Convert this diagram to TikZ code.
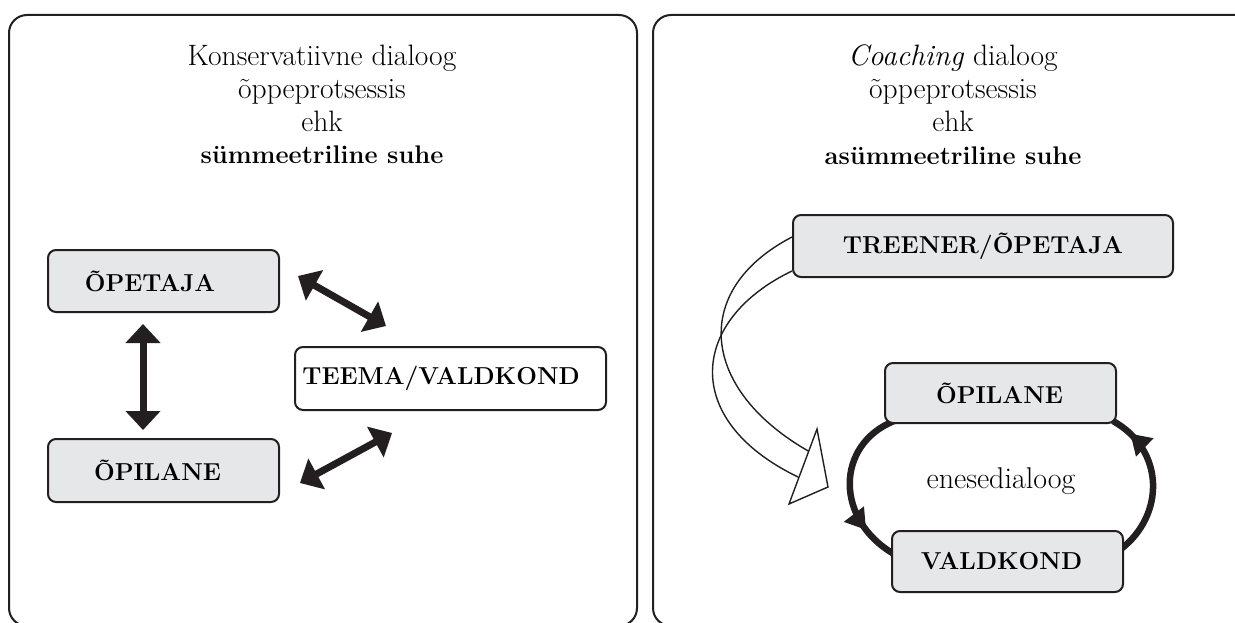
\documentclass[tikz,border=0pt]{standalone}
\usepackage{fontspec}
\usetikzlibrary{arrows.meta,decorations.markings,backgrounds}
\definecolor{ink}{HTML}{231F20}
\definecolor{boxgray}{HTML}{E6E7E8}
\begin{document}
\begin{tikzpicture}[x=1pt,y=-1pt,
  panel/.style={draw=ink,line width=2pt,rounded corners=18pt},
  boxnode/.style={draw=ink,line width=2pt,fill=boxgray,rounded corners=8pt,inner sep=0pt,
    font=\fontsize{24.5}{27}\selectfont\bfseries},
  titletext/.style={align=center,inner sep=0pt,font=\fontsize{29.5}{32.7}\selectfont},
  dblarrow/.style={ink,line width=7pt,{Triangle[length=19pt,width=34pt]}-{Triangle[length=19pt,width=34pt]}},
  hollow/.style={draw=ink,line width=1.4pt},
  loopline/.style={ink,line width=6.5pt,postaction={decorate},
    decoration={markings,mark=at position #1 with {\arrow[ink]{Triangle[length=20pt,width=24pt]}}}}
]
\useasboundingbox (0,0) rectangle (1235,623);

% panels
\draw[panel] (9,15) rectangle (637,626);
\draw[panel] (653,15) rectangle (1260,626);

% left title
\node[titletext,anchor=north] (ltitle) at (322,45)
  {Konservatiivne dialoog\\ õppeprotsessis\\ ehk\\ {\fontsize{25.5}{30}\selectfont\bfseries sümmeetriline suhe}};

% left boxes
\node[boxnode,minimum width=231pt,minimum height=62pt] (opl) at (163.5,281) {ÕPETAJA\hspace*{27pt}};
\node[boxnode,minimum width=231pt,minimum height=63pt] (opil) at (163.5,470.5) {ÕPILANE\hspace*{12pt}};
\node[boxnode,fill=white,minimum width=311pt,minimum height=63pt] (teema) at (450.5,378.5) {TEEMA/VALDKOND\hspace*{19pt}};

% left arrows
\draw[dblarrow] ([xshift=-20.5pt,yshift=-11pt]opl.south) -- ([xshift=-20.5pt,yshift=8pt]opil.north);
\draw[dblarrow] ([xshift=18pt,yshift=5pt]opl.east) -- ([xshift=92pt,yshift=20pt]teema.north west);
\draw[dblarrow] ([xshift=20pt,yshift=-12.5pt]opil.east) -- ([xshift=98pt,yshift=-22pt]teema.south west);

% right title
\node[titletext,anchor=north] (rtitle) at (953,45)
  {\textit{Coaching} dialoog\\ õppeprotsessis\\ ehk\\ {\fontsize{25.5}{30}\selectfont\bfseries asümmeetriline suhe}};

% right boxes
\node[boxnode,minimum width=380pt,minimum height=62pt] (tr) at (983,246) {TREENER/ÕPETAJA};
\node[boxnode,minimum width=231pt,minimum height=60pt] (opr) at (1000.5,393) {ÕPILANE\hspace*{2pt}};
\node[boxnode,minimum width=231pt,minimum height=61pt] (val) at (1007.5,561.5) {VALDKOND\hspace*{12pt}};
\node[inner sep=0pt,anchor=base,font=\fontsize{30}{32}\selectfont] (enese) at (1001,488) {enesedialoog};

% loop
\begin{scope}[on background layer]
\draw[loopline=0.78] ([xshift=10pt,yshift=3pt]opr.south west) .. controls (835,445) and (835,520) .. ([xshift=3pt,yshift=39pt]val.south west);
\draw[loopline=0.86] ([xshift=-3pt,yshift=44pt]val.south east) .. controls (1165,515) and (1165,450) .. ([xshift=-4pt,yshift=3pt]opr.south east);
\end{scope}

% hollow curved arrow
\coordinate (hb1) at (817,429);
\coordinate (htip) at (828,487);
\coordinate (hb2) at (789,504);
\draw[hollow] ([yshift=-23pt]tr.north west) .. controls (690,290) and (700,390) .. (810,452);
\draw[hollow] ([yshift=-57pt]tr.north west) .. controls (690,320) and (680,420) .. (798,477);
\draw[hollow,fill=white,line join=miter] (hb1) -- (htip) -- (hb2) -- cycle;
\end{tikzpicture}
\end{document}
